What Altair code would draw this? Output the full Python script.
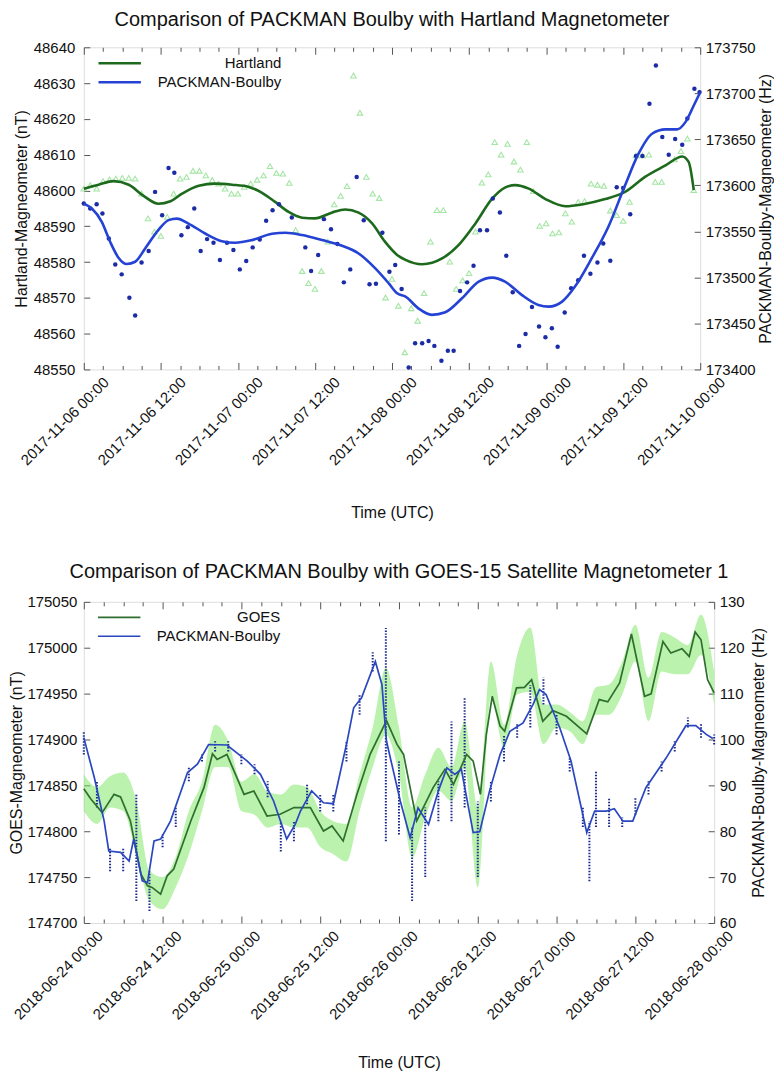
import json
import altair as alt
import pandas as pd

FONT = "Liberation Sans"
INK = "#111111"
TICK = "#555555"

# ---------------- Top panel ----------------
TOP_TITLE = "Comparison of PACKMAN Boulby with Hartland Magnetometer"
TOP_TICK_LABELS = ["2017-11-06 00:00", "2017-11-06 12:00", "2017-11-07 00:00", "2017-11-07 12:00",
                   "2017-11-08 00:00", "2017-11-08 12:00", "2017-11-09 00:00", "2017-11-09 12:00",
                   "2017-11-10 00:00"]
TOP_LEFT_TITLE = "Hartland-Magneometer (nT)"
TOP_RIGHT_TITLE = "PACKMAN-Boulby-Magneometer (Hz)"
TOP_LEGEND = ["Hartland", "PACKMAN-Boulby"]
TOP_LEFT_TICKS = [48550, 48560, 48570, 48580, 48590, 48600, 48610, 48620, 48630, 48640]
TOP_RIGHT_TICKS = [173400, 173450, 173500, 173550, 173600, 173650, 173700, 173750]

HART_PT_HOURS = list(range(0, 91)) + [92, 93, 94, 95]
HART_PT_NT = [48600.5, 48601.5, 48600.5, 48602.6, 48603.1, 48603.3, 48603.5, 48603.5, 48603.3, 48599.1,
              48592.2, 48588.5, 48587.3, 48592.6, 48599.1, 48603.3, 48603.8, 48605.5, 48605.5, 48604.2,
              48602.9, 48601.9, 48600.5, 48599.1, 48599.1, 48601.0, 48601.9, 48603.0, 48604.2, 48606.8,
              48604.9, 48604.7, 48602.1, 48588.9, 48577.5, 48574.1, 48572.5, 48577.5, 48585.7, 48596.1,
              48598.5, 48601.2, 48632.1, 48621.7, 48603.8, 48599.1, 48597.9, 48570.1, 48575.3, 48567.8,
              48554.8, 48567.1, 48563.6, 48571.3, 48585.7, 48594.5, 48594.5, 48580.1, 48572.5, 48574.9,
              48576.9, 48588.5, 48602.2, 48604.5, 48613.5, 48610.0, 48613.0, 48608.1, 48605.8, 48613.5,
              48599.8, 48590.1, 48590.8, 48588.0, 48588.3, 48593.6, 48591.3, 48596.8, 48597.0, 48601.9,
              48601.6, 48601.3, 48594.4, 48593.1, 48591.5, 48596.8, 48609.8, 48609.8, 48610.0, 48602.4,
              48602.4, 48608.7, 48611.0, 48614.5, 48600.1]

BOULBY_PT_HOURS = [0.0, 1.0, 2.0, 2.9, 3.9, 4.9, 5.9, 7.1, 8.0, 9.0, 10.1, 11.1, 12.2, 13.2, 14.1, 15.2,
                   16.2, 17.2, 18.2, 19.2, 20.2, 21.2, 22.3, 23.3, 24.3, 25.3, 26.3, 27.4, 28.4, 29.4,
                   30.4, 32.4, 34.5, 35.4, 36.5, 37.4, 38.5, 39.5, 40.5, 41.5, 42.5, 43.6, 44.5, 45.5,
                   46.5, 47.6, 48.5, 49.5, 50.6, 51.6, 52.7, 53.7, 54.6, 55.7, 56.7, 57.6, 58.6, 59.7,
                   60.7, 61.7, 62.8, 63.7, 64.8, 65.8, 66.8, 67.8, 68.8, 69.8, 70.9, 71.9, 72.9, 73.8,
                   74.9, 75.9, 77.0, 77.9, 78.9, 80.0, 80.9, 82.0, 83.0, 84.0, 85.1, 86.0, 87.0, 88.1,
                   89.1, 90.1, 91.1, 92.1, 93.2, 94.0, 95.1, 95.9]
BOULBY_PT_HZ = [173580.2, 173574.8, 173579.5, 173569.4, 173542.3, 173514.1, 173503.3, 173478.0, 173458.5,
                173516.3, 173528.6, 173592.9, 173567.6, 173618.9, 173613.8, 173545.9, 173554.6, 173574.8,
                173528.6, 173541.6, 173537.6, 173518.8, 173537.6, 173529.7, 173508.7, 173517.8, 173532.6,
                173541.2, 173561.5, 173573.0, 173579.5, 173565.1, 173532.6, 173507.0, 173524.3, 173563.3,
                173552.4, 173536.2, 173494.6, 173508.7, 173609.1, 173562.2, 173492.5, 173493.2, 173548.4,
                173506.2, 173513.4, 173487.4, 173402.2, 173428.5, 173428.5, 173431.0, 173425.6, 173409.4,
                173420.2, 173420.2, 173485.2, 173494.6, 173512.7, 173551.3, 173551.3, 173585.7, 173570.5,
                173523.5, 173483.8, 173425.6, 173438.6, 173467.9, 173446.6, 173435.0, 173444.8, 173424.6,
                173461.8, 173488.1, 173496.8, 173523.5, 173504.0, 173516.3, 173536.9, 173518.1, 173597.9,
                173597.2, 173568.7, 173631.9, 173631.9, 173688.6, 173730.1, 173652.5, 173633.3, 173650.3,
                173644.2, 173672.7, 173704.9, 173701.3]

HART_FIT_HOURS = [0, 2.3, 4.6, 7.0, 9.3, 11.6, 13.5, 15.3, 17.9, 20.5, 23.1, 25.7, 27.7, 29.8, 31.9, 34.0,
                  36.0, 38.6, 40.7, 42.8, 44.9, 46.9, 48.8, 50.1, 52.7, 55.8, 58.4, 61.0, 63.6, 65.6, 67.2,
                  69.3, 71.9, 75.0, 77.6, 81.2, 84.3, 87.4, 90.6, 93.2, 94.2, 95.0]
HART_FIT_NT = [48600.5, 48601.6, 48602.6, 48601.6, 48598.5, 48596.3, 48597.0, 48599.1, 48601.3, 48601.9,
               48601.6, 48601.0, 48599.4, 48596.8, 48594.0, 48592.4, 48592.2, 48593.8, 48594.7, 48593.8,
               48590.8, 48585.7, 48582.0, 48580.6, 48579.4, 48581.0, 48584.8, 48590.8, 48597.7, 48600.8,
               48601.5, 48600.5, 48597.6, 48595.6, 48596.1, 48597.6, 48599.6, 48603.8, 48607.0, 48609.5,
               48608.0, 48600.1]

BOULBY_FIT_HOURS = [0, 1.25, 2.8, 4.1, 5.4, 6.7, 8.0, 9.55, 11.6, 13.2, 14.5, 16.3, 18.9, 21.5, 23.6, 26.2,
                    29.3, 31.4, 34.0, 37.1, 40.2, 42.8, 45.4, 47.5, 48.8, 50.1, 52.1, 54.2, 56.3, 58.9, 61.5,
                    63.6, 65.6, 68.2, 70.8, 72.4, 74.5, 76.5, 79.1, 81.7, 84.3, 86.4, 88.5, 90.6, 92.4, 93.7,
                    95.0, 96.0]
BOULBY_FIT_HZ = [173580.2, 173574.8, 173560.4, 173538.7, 173521.4, 173514.5, 173517.0, 173531.4, 173551.4,
                 173562.2, 173563.9, 173558.5, 173547.7, 173539.4, 173537.6, 173540.5, 173547.4, 173548.5,
                 173546.0, 173540.5, 173534.4, 173526.0, 173509.8, 173493.5, 173482.7, 173479.1, 173466.4,
                 173459.3, 173462.1, 173477.3, 173495.4, 173499.8, 173495.4, 173481.0, 173470.1, 173468.3,
                 173473.7, 173490.0, 173520.6, 173555.0, 173600.1, 173634.4, 173656.1, 173660.8, 173660.8,
                 173668.7, 173686.8, 173701.2]

# ---------------- Bottom panel ----------------
BOT_TITLE = "Comparison of PACKMAN Boulby with GOES-15 Satellite Magnetometer 1"
BOT_TICK_LABELS = ["2018-06-24 00:00", "2018-06-24 12:00", "2018-06-25 00:00", "2018-06-25 12:00",
                   "2018-06-26 00:00", "2018-06-26 12:00", "2018-06-27 00:00", "2018-06-27 12:00",
                   "2018-06-28 00:00"]
BOT_LEFT_TITLE = "GOES-Magneometer (nT)"
BOT_RIGHT_TITLE = "PACKMAN-Boulby-Magneometer (Hz)"
BOT_LEGEND = ["GOES", "PACKMAN-Boulby"]
BOT_LEFT_TICKS = [174700, 174750, 174800, 174850, 174900, 174950, 175000, 175050]
BOT_RIGHT_TICKS = [60, 70, 80, 90, 100, 110, 120, 130]

GOES_LINE_HOURS = [0, 1.1, 2.8, 4.6, 5.6, 7.1, 8.7, 9.7, 10.4, 11.7, 12.7, 13.7, 16.3, 18.3, 19.6, 20.3,
                   21.8, 24.4, 25.9, 27.9, 29.9, 32.0, 34.5, 36.5, 37.8, 39.5, 41.6, 43.6, 46.1, 47.7,
                   48.7, 50.7, 51.7, 53.2, 55.0, 56.3, 58.3, 59.3, 60.4, 61.3, 62.2, 63.4, 64.1, 65.9,
                   67.1, 68.2, 69.9, 71.4, 73.5, 76.6, 78.5, 79.8, 81.6, 83.4, 85.4, 86.4, 88.2, 89.4,
                   91.1, 92.2, 93.1, 94.0, 95.0, 96.0]
GOES_LINE_NT = [174846.4, 174834.8, 174820.3, 174840.2, 174837.3, 174811.2, 174753.2, 174740.5, 174738.8,
                174731.5, 174751.4, 174758.7, 174811.2, 174847.5, 174884.4, 174878.3, 174883.7, 174840.2,
                174843.8, 174816.6, 174818.5, 174825.8, 174825.8, 174800.3, 174805.8, 174789.4, 174840.2,
                174883.7, 174920.6, 174894.6, 174883.7, 174811.2, 174825.8, 174847.5, 174867.4, 174851.1,
                174883.7, 174876.4, 174840.2, 174905.4, 174947.1, 174914.5, 174909.0, 174956.2, 174956.8,
                174965.2, 174919.9, 174931.5, 174925.3, 174906.2, 174943.5, 174941.0, 174961.6, 175014.9,
                174947.1, 174949.7, 175006.8, 174994.2, 174998.9, 174990.5, 175017.1, 175008.7, 174965.2,
                174950.8]

GOES_CLOUD_HOURS = list(range(0, 97, 2))
GOES_CLOUD_LO = [174822, 174808, 174826, 174822, 174775, 174724, 174715, 174739, 174775, 174822, 174870,
                 174870, 174822, 174818, 174804, 174808, 174804, 174804, 174783, 174775, 174767, 174822,
                 174870, 174905, 174862, 174771, 174815, 174844, 174833, 174870, 174739, 174946, 174891,
                 174949, 174952, 174895, 174913, 174909, 174895, 174927, 174927, 174949, 174985, 174920,
                 174974, 174971, 174971, 174992, 174938]
GOES_CLOUD_HI = [174862, 174848, 174860, 174864, 174833, 174757, 174750, 174772, 174822, 174854, 174916,
                 174898, 174854, 174862, 174843, 174840, 174851, 174848, 174822, 174811, 174808, 174862,
                 174913, 174978, 174913, 174826, 174862, 174891, 174870, 174920, 174826, 174985, 174916,
                 174992, 175022, 174938, 174938, 174930, 174920, 174957, 174960, 174985, 175025, 174967,
                 175017, 175011, 175003, 175036, 174974]

PACK_LINE_HOURS = [0, 1.6, 3.1, 3.8, 5.6, 6.9, 7.6, 8.9, 9.7, 10.7, 11.7, 13.2, 15.8, 17.3, 19.0, 21.8,
                   24.9, 26.9, 28.9, 30.9, 32.2, 33.0, 34.7, 36.5, 38.0, 40.1, 41.1, 42.3, 44.4, 45.4,
                   46.1, 48.2, 49.7, 50.9, 52.5, 54.0, 55.3, 56.5, 57.5, 59.3, 60.3, 61.8, 63.4, 64.9,
                   66.9, 68.4, 69.4, 70.4, 72.5, 74.2, 76.6, 77.8, 79.6, 80.8, 82.1, 83.6, 85.6, 88.7,
                   91.7, 93.2, 94.8, 95.8]
PACK_LINE_HZ = [100.4, 91.7, 82.2, 75.7, 75.4, 73.5, 78.3, 69.2, 68.8, 77.9, 78.3, 82.2, 92.8, 94.6, 98.9,
                98.8, 95.3, 92.4, 86.6, 78.3, 81.5, 84.4, 88.8, 86.2, 86.0, 99.6, 106.9, 109.1, 117.0,
                112.0, 99.6, 86.6, 78.6, 85.1, 81.5, 88.8, 93.8, 92.4, 93.5, 79.7, 79.9, 88.8, 96.7, 101.8,
                103.6, 107.6, 110.9, 109.8, 102.5, 95.3, 79.7, 84.4, 84.4, 84.9, 82.2, 82.2, 89.5, 96.0,
                103.0, 103.0, 101.1, 100.2]

PACK_CLOUD_HOURS = [0, 2, 4, 6, 8, 10, 12, 14, 16, 18, 20, 22, 24, 26, 28, 30, 32, 34, 36, 38, 40, 42,
                    44, 46, 48, 50, 52, 54, 56, 58, 60, 62, 64, 66, 68, 70, 72, 74, 76, 77, 78, 80, 82,
                    84, 86, 88, 90, 92, 94, 96]
PACK_CLOUD_LO = [96.7, 85.2, 71.3, 71.3, 64.8, 62.6, 76.5, 80.9, 90.9, 95.2, 97.4, 97.4, 94.6, 92.4, 87.4,
                 75.6, 77.8, 85.9, 84.3, 84.3, 95.2, 105.4, 114.8, 77.8, 79.3, 64.8, 70.0, 82.2, 82.2, 85.2,
                 70.0, 86.5, 95.2, 100.4, 102.6, 107.6, 101.1, 93.0, 80.9, 69.1, 80.9, 80.9, 80.9, 83.6,
                 88.0, 93.0, 97.4, 102.6, 100.4, 98.9]
PACK_CLOUD_HI = [101.7, 90.9, 76.5, 76.5, 88.0, 71.3, 79.3, 85.2, 94.1, 96.7, 99.6, 99.6, 96.7, 94.6, 90.9,
                 82.2, 82.2, 90.2, 88.0, 88.0, 99.6, 109.8, 119.1, 124.3, 95.2, 80.9, 85.2, 90.9, 103.9,
                 109.1, 86.5, 90.9, 101.1, 103.3, 111.9, 113.5, 105.4, 96.1, 85.2, 82.2, 93.0, 87.4, 83.0,
                 87.4, 90.9, 95.2, 99.6, 104.8, 103.3, 101.1]

MAJOR = list(range(0, 97, 12))
MINOR = [v for v in range(0, 97, 3) if v % 12 != 0]


def xenc(axis):
    return alt.X("h:Q", scale=alt.Scale(domain=[0, 96], nice=False, zero=False), axis=axis)


def major_axis(labels, title_pad, label_off):
    expr = json.dumps(labels) + "[round(datum.value / 12)]"
    return alt.Axis(orient="bottom", values=MAJOR, labelExpr=expr, labelAngle=315, labelAlign="right",
                    labelBaseline="middle", labelFont=FONT, labelFontSize=15, labelColor=INK,
                    labelPadding=10, labelOffset=label_off, labelOverlap=False, labelFlush=False,
                    labelBound=False, tickSize=7, offset=-7, tickColor=TICK, domain=False, grid=False,
                    title="Time (UTC)", titleFont=FONT, titleFontSize=16, titleFontWeight="normal",
                    titleColor=INK, titlePadding=title_pad)


def tick_axis(orient, values, size):
    return alt.Axis(orient=orient, values=values, labels=False, tickSize=size, offset=-size,
                    tickColor=TICK, domain=False, grid=False, title=None)


def y_axis(orient, values, title, label_pad, title_pad):
    extra = {"titleAngle": 270, "titleBaseline": "top"} if orient == "right" else {}
    return alt.Axis(orient=orient, values=values, format="d", labelFont=FONT, labelFontSize=15,
                    labelColor=INK, labelPadding=label_pad, tickSize=6, offset=-6,
                    tickColor=TICK, domain=False, grid=False, title=title, titleFont=FONT,
                    titleFontSize=16, titleFontWeight="normal", titleColor=INK, titlePadding=title_pad,
                    **extra)


def color_enc(labels, colors, stroke_w):
    return alt.Color("series:N", scale=alt.Scale(domain=labels, range=colors),
                     legend=alt.Legend(orient="none", legendX=26, legendY=6, title=None,
                                       symbolType="M-2.5,0H2.5", symbolSize=289,
                                       symbolStrokeWidth=stroke_w,
                                       labelAlign="right", labelOffset=152, labelFont=FONT,
                                       labelFontSize=15, labelColor=INK, rowPadding=1,
                                       labelLimit=300))


def panel_title(text, offset):
    return alt.TitleParams(text, font=FONT, fontSize=20, fontWeight="normal", color=INK,
                           anchor="middle", frame="group", offset=offset)


# ---------- top chart ----------
hart_pts = pd.DataFrame({"h": HART_PT_HOURS, "v": HART_PT_NT})
boul_pts = pd.DataFrame({"h": BOULBY_PT_HOURS, "v": BOULBY_PT_HZ})
hart_fit = pd.DataFrame({"h": HART_FIT_HOURS, "v": HART_FIT_NT, "series": TOP_LEGEND[0]})
boul_fit = pd.DataFrame({"h": BOULBY_FIT_HOURS, "v": BOULBY_FIT_HZ, "series": TOP_LEGEND[1]})

TOP_COLORS = ["#1d6a1d", "#2442d4"]
tl_scale = alt.Scale(domain=[48550, 48640], nice=False, zero=False)
tr_scale = alt.Scale(domain=[173400, 173750], nice=False, zero=False)

top = alt.layer(
    alt.Chart(hart_pts).mark_point(shape="triangle-up", filled=False, color="#7fdc7f", size=30,
                                   strokeWidth=1.1).encode(
        x=xenc(major_axis(TOP_TICK_LABELS, 37, 22)),
        y=alt.Y("v:Q", scale=tl_scale,
                axis=y_axis("left", TOP_LEFT_TICKS, TOP_LEFT_TITLE, 9, 4))),
    alt.Chart(hart_fit).mark_line(strokeWidth=2.6, interpolate="monotone").encode(
        x=xenc(tick_axis("bottom", MINOR, 4)),
        y=alt.Y("v:Q", scale=tl_scale, axis=None),
        color=color_enc(TOP_LEGEND, TOP_COLORS, 2.6)),
    alt.Chart(boul_pts).mark_circle(color="#1b2ca6", size=20, opacity=1).encode(
        x=xenc(tick_axis("top", MAJOR, 7)),
        y=alt.Y("v:Q", scale=tr_scale,
                axis=y_axis("right", TOP_RIGHT_TICKS, TOP_RIGHT_TITLE, 5, 2))),
    alt.Chart(boul_fit).mark_line(strokeWidth=2.6, interpolate="monotone").encode(
        x=xenc(tick_axis("top", MINOR, 4)),
        y=alt.Y("v:Q", scale=tr_scale, axis=None),
        color=color_enc(TOP_LEGEND, TOP_COLORS, 2.6)),
).resolve_scale(y="independent").resolve_axis(x="independent").properties(
    width=618, height=323, title=panel_title(TOP_TITLE, 10))

# ---------- bottom chart ----------
goes_line = pd.DataFrame({"h": GOES_LINE_HOURS, "v": GOES_LINE_NT, "series": BOT_LEGEND[0]})
goes_cloud = pd.DataFrame({"h": GOES_CLOUD_HOURS, "lo": GOES_CLOUD_LO, "hi": GOES_CLOUD_HI})
pack_line = pd.DataFrame({"h": PACK_LINE_HOURS, "v": PACK_LINE_HZ, "series": BOT_LEGEND[1]})
pack_cloud = pd.DataFrame({"h": PACK_CLOUD_HOURS, "lo": PACK_CLOUD_LO, "hi": PACK_CLOUD_HI})

BOT_COLORS = ["#2e6e2e", "#2a47c0"]
bl_scale = alt.Scale(domain=[174700, 175050], nice=False, zero=False)
br_scale = alt.Scale(domain=[60, 130], nice=False, zero=False)

bottom = alt.layer(
    alt.Chart(goes_cloud).mark_area(color="#78e65c", opacity=0.5, interpolate="monotone").encode(
        x=xenc(major_axis(BOT_TICK_LABELS, 32, 16)),
        y=alt.Y("lo:Q", scale=bl_scale,
                axis=y_axis("left", BOT_LEFT_TICKS, BOT_LEFT_TITLE, 7, 2)),
        y2="hi:Q"),
    alt.Chart(pack_cloud).mark_rule(color="#1b2a8c", strokeWidth=2, strokeDash=[1.5, 1.5]).encode(
        x=xenc(tick_axis("top", MAJOR, 7)),
        y=alt.Y("lo:Q", scale=br_scale,
                axis=y_axis("right", BOT_RIGHT_TICKS, BOT_RIGHT_TITLE, 5, 6)),
        y2="hi:Q"),
    alt.Chart(goes_line).mark_line(strokeWidth=1.7).encode(
        x=xenc(tick_axis("bottom", MINOR, 4)),
        y=alt.Y("v:Q", scale=bl_scale, axis=None),
        color=color_enc(BOT_LEGEND, BOT_COLORS, 1.7)),
    alt.Chart(pack_line).mark_line(strokeWidth=1.7).encode(
        x=xenc(tick_axis("top", MINOR, 4)),
        y=alt.Y("v:Q", scale=br_scale, axis=None),
        color=color_enc(BOT_LEGEND, BOT_COLORS, 1.7)),
).resolve_scale(y="independent").resolve_axis(x="independent").properties(
    width=632, height=322, title=panel_title(BOT_TITLE, 13))

chart = alt.concat(top, bottom, columns=1, spacing=39, align="none").resolve_scale(
    color="independent").properties(
    padding={"left": 0, "top": 0, "right": 0, "bottom": 0}
).configure_view(stroke="#777777", strokeWidth=1).configure(background="white")

chart.save("out.html", embed_options={"renderer": "svg", "actions": False})
